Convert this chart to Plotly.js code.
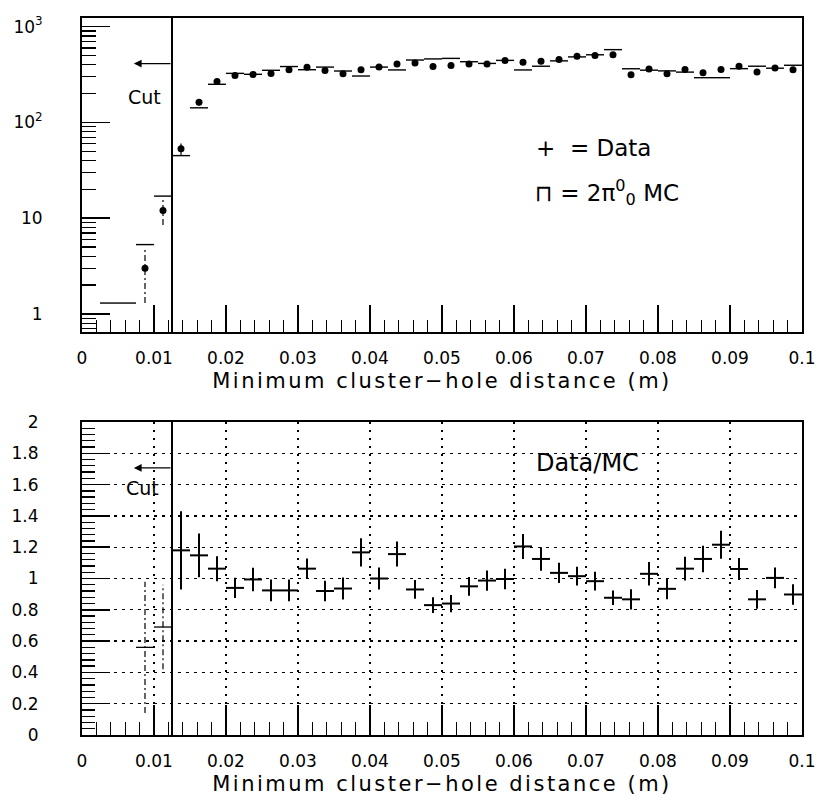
<!DOCTYPE html>
<html>
<head>
<meta charset="utf-8">
<script src="https://cdn.plot.ly/plotly-3.0.1.min.js"></script>
<style>
  html, body { margin: 0; padding: 0; background: #fff; }
  #chart { width: 818px; height: 804px; }
  .xtitle, .x2title { letter-spacing: 2.5px; }
</style>
</head>
<body>
<div id="chart"></div>
<script>
// ---------------- data ----------------
const binWidth = 0.0025;

// MC histogram (2 pi0 MC): bin centres and contents (top panel)
const mcCenters = [0.00125, 0.00375, 0.00625, 0.00875, 0.01125, 0.01375, 0.01625, 0.01875,
  0.02125, 0.02375, 0.02625, 0.02875, 0.03125, 0.03375, 0.03625, 0.03875,
  0.04125, 0.04375, 0.04625, 0.04875, 0.05125, 0.05375, 0.05625, 0.05875,
  0.06125, 0.06375, 0.06625, 0.06875, 0.07125, 0.07375, 0.07625, 0.07875,
  0.08125, 0.08375, 0.08625, 0.08875, 0.09125, 0.09375, 0.09625, 0.09875];
const mcValues = [null, 1.3, 1.3, 5.3, 17, 45, 142, 250,
  325, 318, 350, 383, 355, 378, 344, 305,
  378, 353, 448, 460, 466, 430, 413, 444,
  353, 386, 439, 483, 508, 575, 363, 351,
  345, 335, 293, 293, 364, 386, 368, 395];

// Data points (top panel)
const dataCenters = [0.00875, 0.01125, 0.01375, 0.01625, 0.01875,
  0.02125, 0.02375, 0.02625, 0.02875, 0.03125, 0.03375, 0.03625, 0.03875,
  0.04125, 0.04375, 0.04625, 0.04875, 0.05125, 0.05375, 0.05625, 0.05875,
  0.06125, 0.06375, 0.06625, 0.06875, 0.07125, 0.07375, 0.07625, 0.07875,
  0.08125, 0.08375, 0.08625, 0.08875, 0.09125, 0.09375, 0.09625, 0.09875];
const dataValues = [3, 12, 53, 162, 267,
  309, 316, 324, 355, 377, 348, 322, 355,
  378, 408, 417, 383, 392, 408, 408, 443,
  425, 434, 455, 490, 500, 510, 315, 362,
  322, 356, 330, 356, 386, 335, 370, 355];
const dataErrors = [1.7, 3.5, 7.3, 12.7, 16.3,
  17.6, 17.8, 18, 18.8, 19.4, 18.7, 17.9, 18.8,
  19.4, 20.2, 20.4, 19.6, 19.8, 20.2, 20.2, 21,
  20.6, 20.8, 21.3, 22.1, 22.4, 22.6, 17.7, 19,
  17.9, 18.9, 18.2, 18.9, 19.6, 18.3, 19.2, 18.8];

// Data/MC ratio (bottom panel)
const ratioValues = [0.56, 0.69, 1.18, 1.148, 1.063,
  0.94, 0.994, 0.924, 0.924, 1.063, 0.92, 0.936, 1.167,
  1.0, 1.156, 0.93, 0.83, 0.84, 0.95, 0.987, 0.997,
  1.205, 1.125, 1.036, 1.015, 0.983, 0.877, 0.867, 1.03,
  0.934, 1.063, 1.125, 1.216, 1.061, 0.867, 1.004, 0.898];
const ratioErrors = [0.42, 0.27, 0.25, 0.14, 0.08,
  0.065, 0.075, 0.07, 0.07, 0.065, 0.065, 0.07, 0.09,
  0.07, 0.08, 0.06, 0.05, 0.055, 0.06, 0.065, 0.065,
  0.08, 0.075, 0.065, 0.06, 0.06, 0.047, 0.065, 0.075,
  0.066, 0.076, 0.085, 0.09, 0.07, 0.06, 0.067, 0.065];

const cutValue = 0.0125;
const nLowBins = 2; // bins below the cut, drawn dash-dotted
const xTitle = 'Minimum cluster\u2212hole distance (m)';
const xTickVals = [0, 0.01, 0.02, 0.03, 0.04, 0.05, 0.06, 0.07, 0.08, 0.09, 0.1];
const xTickText = ['0', '0.01', '0.02', '0.03', '0.04', '0.05', '0.06', '0.07', '0.08', '0.09', '0.1'];
const yTickVals = [1, 10, 100, 1000];
const yTickText = ['1', '10', '10<sup>2</sup>', '10<sup>3</sup>'];

// ---------------- build traces ----------------
// MC histogram drawn as horizontal bin-top segments
const mcX = [], mcY = [];
mcCenters.forEach((c, i) => {
  mcX.push(c - binWidth / 2, c + binWidth / 2, null);
  mcY.push(mcValues[i], mcValues[i], null);
});

// dash-dotted vertical error segments for the two bins below the cut
function vSegments(xs, ys, es) {
  const X = [], Y = [];
  xs.forEach((x, i) => { X.push(x, x, null); Y.push(ys[i] - es[i], ys[i] + es[i], null); });
  return { X, Y };
}
const lowTop = vSegments(dataCenters.slice(0, nLowBins), dataValues.slice(0, nLowBins), dataErrors.slice(0, nLowBins));
const lowBot = vSegments(dataCenters.slice(0, nLowBins), ratioValues.slice(0, nLowBins), ratioErrors.slice(0, nLowBins));

const font = 'DejaVu Sans, Arial, sans-serif';
const black = '#000';

const traces = [
  {
    type: 'scatter', mode: 'lines', x: mcX, y: mcY,
    line: { color: black, width: 1.4 },
    connectgaps: false, xaxis: 'x', yaxis: 'y', hoverinfo: 'skip', showlegend: false
  },
  {
    type: 'scatter', mode: 'lines', x: lowTop.X, y: lowTop.Y,
    line: { color: black, width: 1.2, dash: '6px,3px,2px,3px' },
    xaxis: 'x', yaxis: 'y', showlegend: false
  },
  {
    type: 'scatter', mode: 'markers', x: dataCenters, y: dataValues,
    marker: { symbol: 'circle', size: 7, color: black },
    error_y: { type: 'data', array: dataErrors.map((e, i) => i < nLowBins ? 0 : e), visible: true, color: black, thickness: 1.2, width: 0 },
    xaxis: 'x', yaxis: 'y', showlegend: false
  },
  {
    type: 'scatter', mode: 'lines', x: lowBot.X, y: lowBot.Y,
    line: { color: black, width: 1.2, dash: '6px,3px,2px,3px' },
    xaxis: 'x2', yaxis: 'y2', showlegend: false
  },
  {
    type: 'scatter', mode: 'markers', x: dataCenters.slice(0, nLowBins), y: ratioValues.slice(0, nLowBins),
    marker: { size: 1, color: 'rgba(0,0,0,0)' },
    error_x: { type: 'constant', value: binWidth / 2, visible: true, color: black, thickness: 1.3, width: 0 },
    xaxis: 'x2', yaxis: 'y2', showlegend: false
  },
  {
    type: 'scatter', mode: 'markers', x: dataCenters.slice(nLowBins), y: ratioValues.slice(nLowBins),
    marker: { size: 1, color: 'rgba(0,0,0,0)' },
    error_x: { type: 'constant', value: binWidth / 2, visible: true, color: black, thickness: 2, width: 0 },
    error_y: { type: 'data', array: ratioErrors.slice(nLowBins), visible: true, color: black, thickness: 2, width: 0 },
    xaxis: 'x2', yaxis: 'y2', showlegend: false
  }
];

const logMinor = [];
[0.1, 1, 10, 100].forEach(d => { for (let k = 2; k <= 9; k++) logMinor.push(+(k * d).toPrecision(3)); });

const xCommon = {
  range: [0, 0.1], tickmode: 'array', tickvals: xTickVals, ticktext: xTickText,
  ticks: 'inside', tickwidth: 1.5, tickcolor: black, ticklabeloverflow: 'allow',
  showline: true, linewidth: 2, linecolor: black, mirror: true, zeroline: false,
  tickfont: { family: font, size: 17, color: black },
  ticklabelstandoff: 10,
  title: { text: xTitle, font: { family: font, size: 21, color: black }, standoff: 6 }
};

const layout = {
  width: 818, height: 804,
  margin: { l: 82, r: 16, t: 18, b: 69 },
  paper_bgcolor: '#fff', plot_bgcolor: '#fff',
  showlegend: false,
  font: { family: font, color: black },
  xaxis: Object.assign({}, xCommon, {
    domain: [0, 1], anchor: 'y', ticklen: 27, showgrid: false,
    minor: { ticks: 'inside', dtick: 0.002, tick0: 0, ticklen: 12, tickwidth: 1.3, tickcolor: black, showgrid: false }
  }),
  yaxis: {
    type: 'log', domain: [0.5621, 1], anchor: 'x', range: [-0.188, 3.09],
    tickmode: 'array', tickvals: yTickVals, ticktext: yTickText,
    ticks: 'inside', ticklen: 28, tickwidth: 1.5, tickcolor: black,
    minor: { ticks: 'inside', tickmode: 'array', tickvals: logMinor, ticklen: 14, tickwidth: 1.3, tickcolor: black, showgrid: false },
    showline: true, linewidth: 2, linecolor: black, mirror: true, showgrid: false, zeroline: false,
    tickfont: { family: font, size: 17, color: black },
    ticklabelstandoff: 34
  },
  xaxis2: Object.assign({}, xCommon, {
    domain: [0, 1], anchor: 'y2', ticklen: 30,
    showgrid: true, gridcolor: black, gridwidth: 1.3, griddash: '2px,6px',
    minor: { ticks: 'inside', dtick: 0.002, tick0: 0, ticklen: 13, tickwidth: 1.3, tickcolor: black, showgrid: false }
  }),
  yaxis2: {
    domain: [0, 0.4365], anchor: 'x2', range: [0, 2], tick0: 0, dtick: 0.2,
    ticks: 'inside', ticklen: 28, tickwidth: 1.5, tickcolor: black,
    minor: { ticks: 'inside', dtick: 0.04, tick0: 0, ticklen: 13, tickwidth: 1.3, tickcolor: black, showgrid: false },
    showline: true, linewidth: 2, linecolor: black, mirror: true, zeroline: false,
    showgrid: true, gridcolor: black, gridwidth: 1.3, griddash: '3px,5px',
    tickfont: { family: font, size: 17, color: black },
    ticklabelstandoff: 38
  },
  shapes: [
    { type: 'line', xref: 'x', yref: 'y domain', x0: cutValue, x1: cutValue, y0: 0, y1: 1, line: { color: black, width: 2 } },
    { type: 'line', xref: 'x2', yref: 'y2 domain', x0: cutValue, x1: cutValue, y0: 0, y1: 1, line: { color: black, width: 2 } }
  ],
  annotations: [
    { xref: 'x', yref: 'y domain', x: 0.0072, y: 0.855, ax: cutValue, ay: 0.855, axref: 'x', ayref: 'y domain',
      text: '', showarrow: true, arrowhead: 2, arrowsize: 1.2, arrowwidth: 1.3, arrowcolor: black },
    { xref: 'x', yref: 'y domain', x: 0.0087, y: 0.79, text: 'Cut', showarrow: false,
      font: { family: font, size: 19, color: black } },
    { xref: 'x2', yref: 'y2', x: 0.0072, y: 1.707, ax: cutValue, ay: 1.707, axref: 'x2', ayref: 'y2',
      text: '', showarrow: true, arrowhead: 2, arrowsize: 1.2, arrowwidth: 1.3, arrowcolor: black },
    { xref: 'x2', yref: 'y2', x: 0.0084, y: 1.58, text: 'Cut', showarrow: false,
      font: { family: font, size: 19, color: black } },
    { xref: 'x', yref: 'y domain', x: 0.0628, y: 0.586, xanchor: 'left', text: '+  = Data', showarrow: false,
      font: { family: font, size: 23, color: black } },
    { xref: 'x', yref: 'y domain', x: 0.0626, y: 0.443, xanchor: 'left', text: '\u2293 = 2\u03c0<sup>0</sup><sub>0</sub> MC', showarrow: false,
      font: { family: font, size: 23, color: black } },
    { xref: 'x2', yref: 'y2', x: 0.0702, y: 1.74, text: 'Data/MC', showarrow: false,
      font: { family: font, size: 24, color: black } }
  ]
};

Plotly.newPlot('chart', traces, layout, { displayModeBar: false, staticPlot: true });
</script>
</body>
</html>
